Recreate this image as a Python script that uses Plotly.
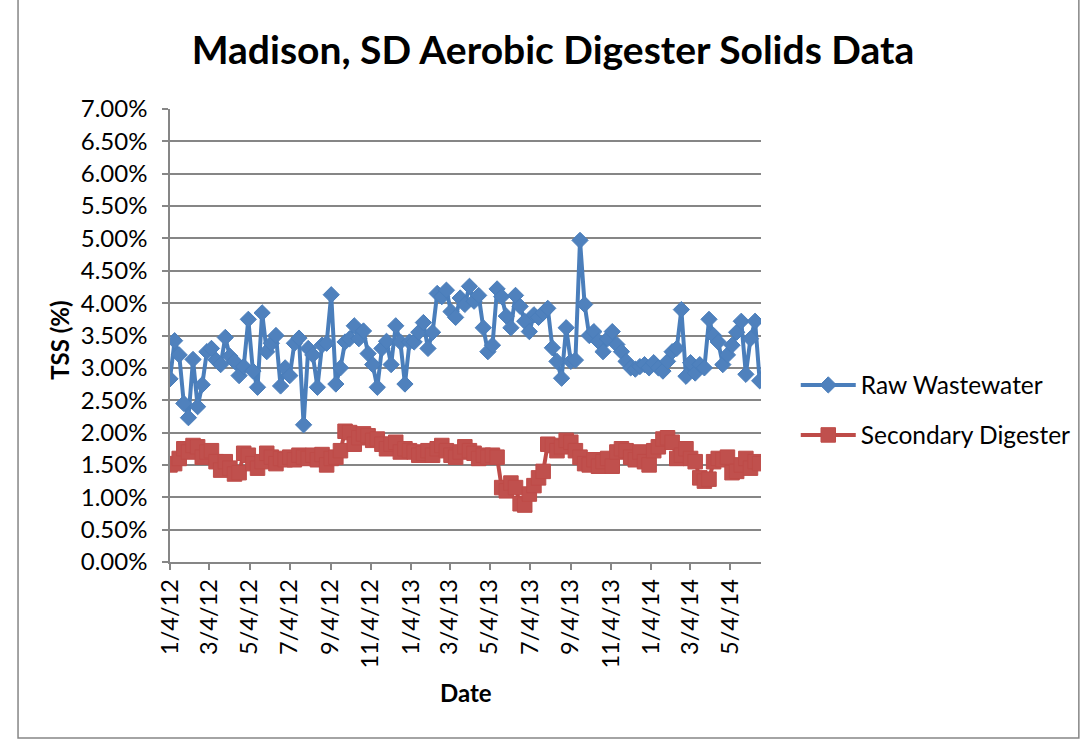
import plotly.graph_objects as go
import pandas as pd

start_date = "2012-01-04"
n_points = 129
dates = pd.date_range(start_date, periods=n_points, freq="7D")

raw_wastewater = [
    2.83, 3.42, 3.20, 2.45, 2.23, 3.13, 2.40, 2.74, 3.25, 3.30,
    3.12, 3.05, 3.47, 3.18, 3.10, 2.88, 3.02, 3.75, 2.95, 2.70,
    3.85, 3.25, 3.38, 3.50, 2.72, 3.00, 2.88, 3.38, 3.46, 2.12,
    3.30, 3.20, 2.70, 3.35, 3.38, 4.13, 2.75, 3.00, 3.40, 3.45,
    3.65, 3.45, 3.57, 3.22, 3.05, 2.70, 3.30, 3.41, 3.05, 3.65,
    3.40, 2.75, 3.40, 3.40, 3.55, 3.70, 3.30, 3.55, 4.15, 4.10,
    4.20, 3.87, 3.78, 4.08, 3.98, 4.26, 4.03, 4.12, 3.62, 3.25,
    3.35, 4.22, 4.10, 3.80, 3.62, 4.12, 3.95, 3.72, 3.56, 3.82,
    3.78, 3.85, 3.92, 3.31, 3.10, 2.84, 3.62, 3.10, 3.12, 4.97,
    3.98, 3.50, 3.56, 3.41, 3.25, 3.45, 3.56, 3.36, 3.25, 3.10,
    3.00, 2.98, 3.02, 3.05, 3.00, 3.08, 3.00, 2.95, 3.10, 3.25,
    3.30, 3.90, 2.87, 3.08, 2.92, 3.05, 3.00, 3.75, 3.50, 3.40,
    3.05, 3.20, 3.35, 3.55, 3.72, 2.90, 3.45, 3.72, 2.80,
]

secondary_digester = [
    1.50, 1.52, 1.60, 1.75, 1.70, 1.80, 1.78, 1.62, 1.70, 1.72,
    1.55, 1.42, 1.55, 1.45, 1.36, 1.38, 1.68, 1.65, 1.52, 1.45,
    1.55, 1.68, 1.62, 1.52, 1.60, 1.58, 1.62, 1.58, 1.65, 1.62,
    1.60, 1.65, 1.58, 1.66, 1.50, 1.60, 1.62, 1.72, 2.02, 2.00,
    1.82, 1.92, 1.98, 1.95, 1.88, 1.90, 1.82, 1.75, 1.82, 1.85,
    1.70, 1.75, 1.72, 1.70, 1.65, 1.68, 1.72, 1.65, 1.75, 1.80,
    1.72, 1.65, 1.62, 1.70, 1.78, 1.72, 1.68, 1.60, 1.65, 1.62,
    1.65, 1.62, 1.15, 1.10, 1.22, 1.15, 0.90, 0.88, 1.05, 1.18,
    1.30, 1.40, 1.82, 1.80, 1.72, 1.78, 1.88, 1.85, 1.72, 1.62,
    1.52, 1.50, 1.58, 1.48, 1.55, 1.60, 1.48, 1.70, 1.75, 1.72,
    1.62, 1.58, 1.70, 1.55, 1.50, 1.72, 1.78, 1.90, 1.92, 1.85,
    1.60, 1.65, 1.75, 1.60, 1.55, 1.30, 1.25, 1.28, 1.55, 1.60,
    1.58, 1.62, 1.38, 1.40, 1.50, 1.60, 1.45, 1.55, 1.52,
]

tick_dates = ["2012-01-04", "2012-03-04", "2012-05-04", "2012-07-04", "2012-09-04",
              "2012-11-04", "2013-01-04", "2013-03-04", "2013-05-04", "2013-07-04",
              "2013-09-04", "2013-11-04", "2014-01-04", "2014-03-04", "2014-05-04"]
tick_labels = ["1/4/12", "3/4/12", "5/4/12", "7/4/12", "9/4/12", "11/4/12",
               "1/4/13", "3/4/13", "5/4/13", "7/4/13", "9/4/13", "11/4/13",
               "1/4/14", "3/4/14", "5/4/14"]

FONT = "Lato"
BLUE = "#4A7EBB"
RED = "#BE4B48"
GRID = "#868686"

W, H = 1088, 741
PL, PR, PT, PB = 170, 765, 109, 562  # plot area in window px


def px(xw):
    return (xw - PL) / (PR - PL)


def py(yw):
    return (PB - yw) / (PB - PT)


fig = go.Figure()
fig.add_trace(go.Scatter(
    x=dates, y=raw_wastewater, name="Raw Wastewater", mode="lines+markers",
    line=dict(color=BLUE, width=4),
    marker=dict(symbol="diamond", size=12.5, color="#4F81BD", line=dict(color=BLUE, width=1)),
    legend="legend",
))
fig.add_trace(go.Scatter(
    x=dates, y=secondary_digester, name="Secondary Digester", mode="lines+markers",
    line=dict(color=RED, width=4),
    marker=dict(symbol="square", size=14.5, color="#C0504D", line=dict(color=RED, width=1)),
    legend="legend2",
))

fig.update_layout(
    width=W, height=H,
    margin=dict(l=PL, r=W - PR, t=PT, b=H - PB),
    paper_bgcolor="white", plot_bgcolor="white",
    font=dict(family=FONT, size=22, color="black"),
    title=dict(text="<b>Madison, SD Aerobic Digester Solids Data</b>",
               x=553 / W, xanchor="center", y=1 - 50 / H, yanchor="middle",
               font=dict(family=FONT, size=39, color="black")),
    legend=dict(x=px(800), xanchor="left", y=py(385), yanchor="middle",
                font=dict(family=FONT, size=24.5, color="black"), itemwidth=55,
                bgcolor="rgba(0,0,0,0)"),
    legend2=dict(x=px(800), xanchor="left", y=py(435), yanchor="middle",
                 font=dict(family=FONT, size=24.5, color="black"), itemwidth=55,
                 bgcolor="rgba(0,0,0,0)"),
    showlegend=True,
)

fig.update_xaxes(
    type="date", range=["2012-01-04", "2014-06-20"],
    tickvals=tick_dates, ticktext=tick_labels, tickangle=-90,
    showgrid=False, showline=True, linecolor=GRID, linewidth=1.5,
    ticks="outside", ticklen=6, tickcolor=GRID, tickwidth=1.5,
    tickfont=dict(family=FONT, size=23.5, color="black"), zeroline=False,
)
fig.update_yaxes(
    range=[0, 7], dtick=0.5, tickformat=".2f", ticksuffix="%",
    showgrid=True, gridcolor=GRID, gridwidth=1.5,
    showline=True, linecolor=GRID, linewidth=1.5,
    ticks="outside", ticklen=6, tickcolor=GRID, tickwidth=1.5,
    ticklabelstandoff=10,
    tickfont=dict(family=FONT, size=24, color="black"), zeroline=False,
)

fig.add_annotation(text="<b>TSS (%)</b>", x=px(58), y=py(340),
                   xref="paper", yref="paper", textangle=-90, showarrow=False,
                   xanchor="center", yanchor="middle",
                   font=dict(family=FONT, size=24, color="black"))
fig.add_annotation(text="<b>Date</b>", x=px(468), y=py(692),
                   xref="paper", yref="paper", showarrow=False,
                   xanchor="center", yanchor="middle",
                   font=dict(family=FONT, size=24, color="black"))

fig.add_shape(type="rect", xref="paper", yref="paper",
              x0=px(17), x1=px(1085), y0=py(738), y1=py(-5),
              line=dict(color=GRID, width=1.5), fillcolor="rgba(0,0,0,0)", layer="below")

fig.write_html("out.html", config={"displayModeBar": False},
               post_script="document.body.style.margin='0';document.body.style.overflow='hidden';")
